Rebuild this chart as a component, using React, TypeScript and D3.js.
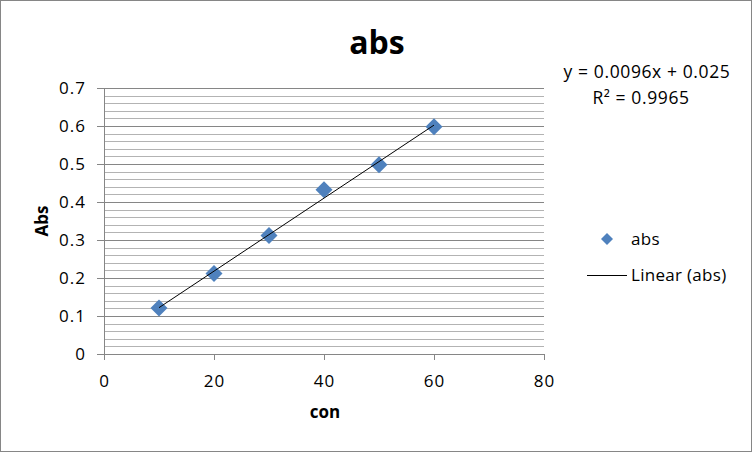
import React from "react";
import * as d3 from "d3";

const conValues = [10, 20, 30, 40, 50, 60];
const absValues = [0.121, 0.212, 0.312, 0.432, 0.498, 0.598];
const xTicks = [0, 20, 40, 60, 80];
const yTicks = [0, 0.1, 0.2, 0.3, 0.4, 0.5, 0.6, 0.7];
const equationText = "y = 0.0096x + 0.025";
const r2Text = "R² = 0.9965";

function diamondPath(r: number) {
  const p = d3.path();
  p.moveTo(0, -r);
  p.lineTo(r, 0);
  p.lineTo(0, r);
  p.lineTo(-r, 0);
  p.closePath();
  return p.toString();
}

export default function App() {
  const W = 752, H = 452;
  const x = d3.scaleLinear().domain([0, 80]).range([104, 544]);
  const y = d3.scaleLinear().domain([0, 0.7]).range([354, 88]);
  const font = "'Open Sans', Lato, sans-serif";

  const n = conValues.length;
  const mx = d3.mean(conValues)!;
  const my = d3.mean(absValues)!;
  let sxy = 0, sxx = 0;
  for (let i = 0; i < n; i++) {
    sxy += (conValues[i] - mx) * (absValues[i] - my);
    sxx += (conValues[i] - mx) ** 2;
  }
  const slope = sxy / sxx;
  const icpt = my - slope * mx;
  const x0 = d3.min(conValues)!, x1 = d3.max(conValues)!;

  const minor = d3.range(0, 0.7001, 0.02);

  return (
    <svg width={W} height={H} style={{ position: "absolute", left: 0, top: 0 }} fontFamily={font}>
      <rect x={0.5} y={0.5} width={W - 1} height={H - 1} fill="white" stroke="#868686" />
      <text x={377} y={54} textAnchor="middle" fontSize={32} fontWeight="bold">abs</text>
      {minor.map((v, i) => (
        <line key={"m" + i} x1={104} x2={544} y1={Math.round(y(v)) + 0.5} y2={Math.round(y(v)) + 0.5} stroke="#b3b3b3" />
      ))}
      {yTicks.map((v, i) => (
        <g key={"y" + i}>
          <line x1={97} x2={544} y1={Math.round(y(v)) + 0.5} y2={Math.round(y(v)) + 0.5} stroke="#868686" />
          <text x={86} y={y(v) + 6} textAnchor="end" fontSize={17} letterSpacing={1}>{v === 0 ? "0" : v.toFixed(1)}</text>
        </g>
      ))}
      <line x1={104.5} x2={104.5} y1={88} y2={354} stroke="#868686" />
      {xTicks.map((v, i) => (
        <g key={"x" + i}>
          <line x1={Math.round(x(v)) + 0.5} x2={Math.round(x(v)) + 0.5} y1={354} y2={360} stroke="#868686" />
          <text x={x(v) + 0.5} y={387} textAnchor="middle" fontSize={17} letterSpacing={1}>{v}</text>
        </g>
      ))}
      <text transform="translate(48,221) rotate(-90)" textAnchor="middle" fontSize={17} fontWeight="bold">Abs</text>
      <text x={325} y={418} textAnchor="middle" fontSize={17} fontWeight="bold">con</text>
      {conValues.map((c, i) => (
        <path key={"p" + i} d={diamondPath(8.5)} transform={`translate(${x(c)},${y(absValues[i])})`} fill="#4f81bd" />
      ))}
      <line x1={x(x0)} y1={y(slope * x0 + icpt)} x2={x(x1)} y2={y(slope * x1 + icpt)} stroke="#000" strokeWidth={1} />
      <text x={647} y={78} textAnchor="middle" fontSize={17.5} letterSpacing={0.6}>{equationText}</text>
      <text x={641} y={104} textAnchor="middle" fontSize={17.5} letterSpacing={0.6}>{r2Text}</text>
      <path d={diamondPath(6)} transform="translate(607,239)" fill="#4f81bd" />
      <text x={631} y={245} fontSize={17} letterSpacing={0.3}>abs</text>
      <line x1={587} x2={627} y1={275.5} y2={275.5} stroke="#000" />
      <text x={631} y={281} fontSize={17} letterSpacing={0.3}>Linear (abs)</text>
    </svg>
  );
}
